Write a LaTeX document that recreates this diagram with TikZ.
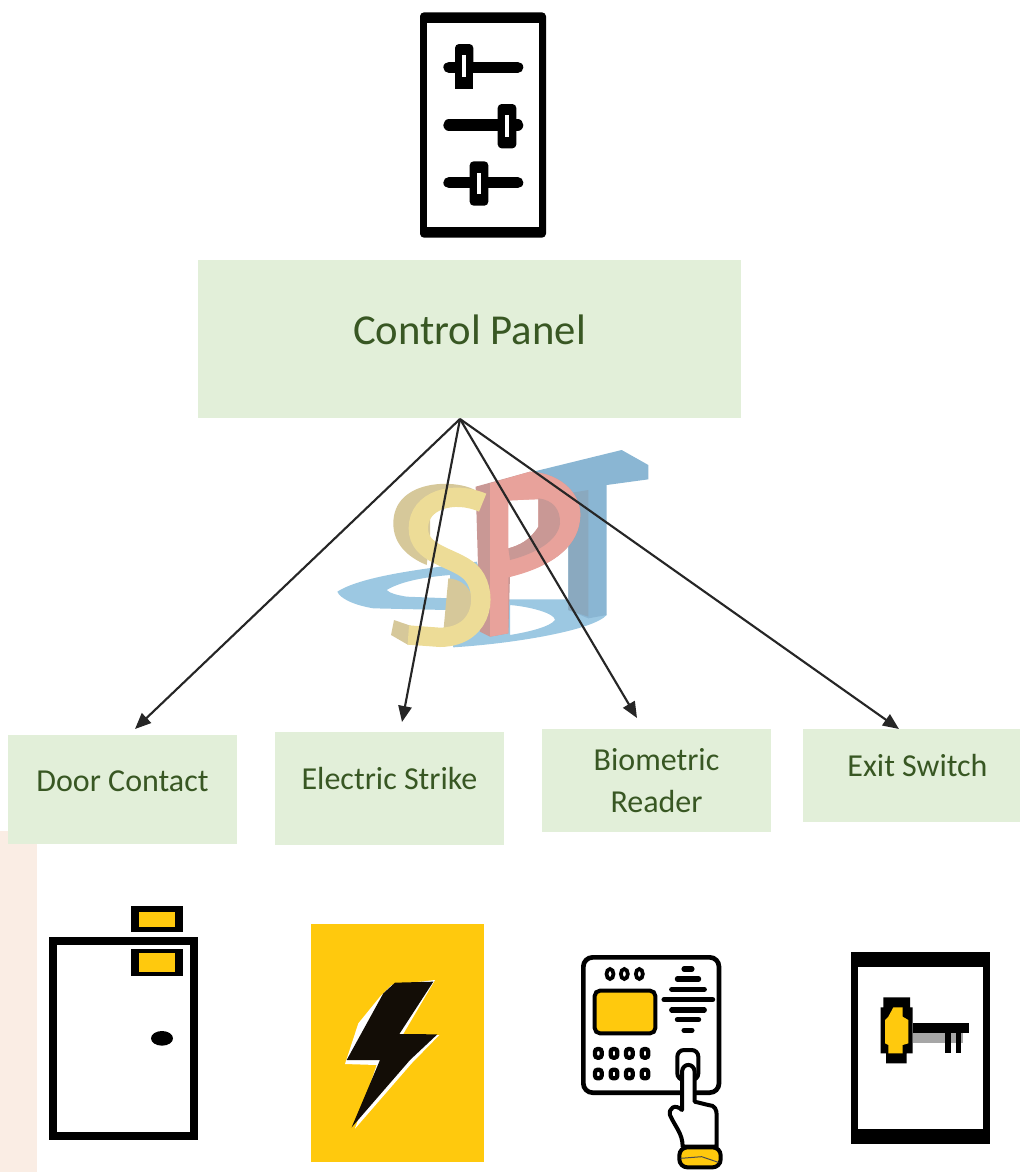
\documentclass[tikz,border=0pt]{standalone}
\usepackage{fontspec}
\setmainfont{Carlito}
\usetikzlibrary{arrows.meta}

\definecolor{boxgreen}{HTML}{E2EFD9}
\definecolor{textgreen}{HTML}{385723}
\definecolor{peach}{HTML}{FAEDE4}
\definecolor{amber}{HTML}{FFC90D}
\definecolor{arrowgrey}{HTML}{262626}
\definecolor{logoblue}{HTML}{9CC8E2}
\definecolor{logoteal}{HTML}{8AB6D3}
\definecolor{logoslate}{HTML}{8AA9BF}
\definecolor{logopink}{HTML}{E8A29B}
\definecolor{logorose}{HTML}{C99895}
\definecolor{logoyellow}{HTML}{EDDC97}
\definecolor{logosand}{HTML}{D6C89A}

\tikzstyle{block} = [rectangle, fill=boxgreen, text=textgreen, inner sep=0pt,
		font=\fontsize{24}{31.5}\selectfont, align=center]
\tikzstyle{line} = [draw=arrowgrey, line width=1.6pt, -{Triangle[length=12pt,width=10pt]}]
\tikzstyle{ink} = [draw=black, line cap=round]

\begin{document}
\begin{tikzpicture}[x=0.75pt, y=-0.75pt]
		\useasboundingbox (0,0) rectangle (1020,1172);
		
		%Strip on the left
		\fill[peach] (0,831) rectangle (37,1172);
		
		%Logo
		\begin{scope}[shift={(330,440)}, x=0.25pt, y=-0.25pt]
		\fill[logoblue, even odd rule] (22,455) .. controls (100,405) and (300,385) .. (440,365) -- (480,478) -- (715,478) -- (830,525) .. controls (790,570) and (560,610) .. (370,622) -- (350,510) -- (130,505) .. controls (70,495) and (30,475) .. (22,455) -- cycle
			(170,450) .. controls (220,420) and (300,410) .. (360,405) -- (360,475) -- (230,470) .. controls (200,465) and (180,460) .. (170,450) -- cycle
			(540,495) .. controls (600,500) and (675,520) .. (675,540) .. controls (660,560) and (600,575) .. (540,585) -- cycle;
		\fill[logoteal] (610,95) -- (875,30) -- (955,75) -- (955,118) -- (830,135) -- (830,525) -- (775,535) -- (715,510) -- (715,150) -- cycle;
		\fill[logoslate] (715,160) -- (775,150) -- (775,530) -- (715,510) -- cycle;
		\fill[logorose] (437,140) -- (600,95) .. controls (700,100) and (760,170) .. (750,240) .. controls (740,330) and (650,385) .. (540,405) -- (535,580) -- (480,590) -- (450,575) -- cycle;
		\fill[logopink] (480,130) -- (600,95) .. controls (700,100) and (760,170) .. (750,240) .. controls (740,330) and (650,385) .. (535,412) -- (535,580) -- (480,590) -- cycle;
		\fill[white] (535,182) -- (625,178) -- (625,260) .. controls (600,300) and (570,315) .. (535,325) -- cycle;
		\fill[logorose] (625,175) .. controls (670,180) and (692,210) .. (690,250) .. controls (685,300) and (620,340) .. (540,360) -- (535,325) .. controls (570,315) and (600,300) .. (625,260) -- cycle;
		\fill[logosand] (435,150) .. controls (370,115) and (190,120) .. (190,250) .. controls (190,310) and (230,350) .. (290,375) -- (300,300) -- (300,170) -- cycle;
		\fill[logosand] (355,415) .. controls (420,420) and (440,480) .. (430,530) .. controls (420,570) and (380,580) .. (340,575) -- cycle;
		\fill[logosand] (192,540) -- (183,585) -- (235,615) -- (250,560) -- cycle;
		\draw[logoyellow, line width=14.5pt] (458,188) .. controls (370,150) and (265,180) .. (265,265) .. controls (265,345) and (370,350) .. (420,395) .. controls (475,445) and (470,590) .. (330,592) -- (235,585);
		\end{scope}
		
		%Boxes
		\node [block, minimum width=407pt, text height=63pt, text depth=55.5pt, font=\fontsize{32}{38}\selectfont] (panel) at (469.5,339) {Control Panel};
		\node [block, minimum width=171.75pt, text height=42pt, text depth=39.75pt] (door) at (122.5,789.5) {Door Contact};
		\node [block, minimum width=171.75pt, text height=42.75pt, text depth=42pt] (strike) at (389.5,788.5) {Electric Strike};
		\node [block, minimum width=171.75pt, minimum height=77.25pt] (reader) at (656.5,780.5) {Biometric\\Reader};
		\node [block, minimum width=162.75pt, text height=35.25pt, text depth=34.5pt] (exit) at (911.5,775.5) {\hspace*{9pt}Exit Switch};
		
		%arrows
		\coordinate (hub) at (460,419);
		\coordinate (doorTip) at (135,729);
		\coordinate (strikeTip) at (402,722);
		\coordinate (readerTip) at (637,718);
		\coordinate (exitTip) at (899,729);
		\draw[line] (hub) -- (doorTip);
		\draw[line] (hub) -- (strikeTip);
		\draw[line] (hub) -- (readerTip);
		\draw[line] (hub) -- (exitTip);
		
		%Control panel icon
		\begin{scope}[shift={(400,0)}, x=0.25pt, y=-0.25pt]
		\fill[black, rounded corners=3pt] (60,37) rectangle (438,713);
		\fill[white] (80,70) rectangle (418,680);
		\draw[ink, line width=8.5pt] (147,202) -- (353,202);
		\draw[ink, line width=8.5pt] (147,375) -- (353,375);
		\draw[ink, line width=8.5pt] (147,548) -- (353,548);
		\fill[black, rounded corners=3pt] (165,132) rectangle (220,200);
		\fill[black] (165,190) rectangle (220,266);
		\fill[black, rounded corners=3pt] (293,312) rectangle (349,445);
		\fill[black, rounded corners=3pt] (209,484) rectangle (265,617);
		\fill[white] (186,165) rectangle (198,232);
		\fill[white] (315,345) rectangle (327,410);
		\fill[white] (230,518) rectangle (242,583);
		\end{scope}
		
		%Door and lightning icons
		\begin{scope}[shift={(0,890)}, x=0.25pt, y=-0.25pt]
		\draw[black, fill=white, line width=6pt] (158,153) rectangle (581,739);
		\fill[black] (394,48) rectangle (548,125);
		\fill[amber] (416,66) rectangle (526,112);
		\fill[black] (394,176) rectangle (548,258);
		\fill[amber] (416,189) rectangle (526,246);
		\fill[black] (486,445) ellipse [x radius=33, y radius=22];
		\fill[amber] (933,102) rectangle (1452,816);
		\fill[white, line join=round] (1175,285) -- (1305,270) -- (1205,440) -- (1318,435) -- (1235,520) -- (1065,716) -- (1130,525) -- (1035,522) -- (1075,400) -- (1140,320) -- cycle;
		\fill[black!90!brown] (1185,278) -- (1300,275) -- (1198,432) -- (1312,433) -- (1230,510) -- (1055,712) -- (1140,510) -- (1040,510) -- (1150,310) -- cycle;
		\end{scope}
		
		%Reader and key icons
		\begin{scope}[shift={(560,930)}, x=0.25pt, y=-0.25pt]
		\draw[black, line width=3.5pt, rounded corners=7pt] (70,82) rectangle (477,488);
		\draw[black, line width=2.8pt] (150,132) ellipse [x radius=10.5, y radius=15];
		\draw[black, line width=2.8pt] (193,132) ellipse [x radius=10.5, y radius=15];
		\draw[black, line width=2.8pt] (238,132) ellipse [x radius=10.5, y radius=15];
		\draw[black, fill=amber, line width=3pt, rounded corners=4pt] (104,182) rectangle (286,310);
		\draw[ink, line width=3.8pt] (372,117) -- (396,117);
		\draw[ink, line width=3.8pt] (352,147) -- (416,147);
		\draw[ink, line width=3.8pt] (335,178) -- (433,178);
		\draw[ink, line width=3.8pt] (312,209) -- (458,209);
		\draw[ink, line width=3.8pt] (335,240) -- (433,240);
		\draw[ink, line width=3.8pt] (352,269) -- (416,269);
		\draw[ink, line width=3.8pt] (372,301) -- (396,301);
		\draw[black, line width=3.2pt, rounded corners=2pt] (105,357) rectangle (125,383);
		\draw[black, line width=3.2pt, rounded corners=2pt] (152,357) rectangle (172,383);
		\draw[black, line width=3.2pt, rounded corners=2pt] (198,357) rectangle (218,383);
		\draw[black, line width=3.2pt, rounded corners=2pt] (245,357) rectangle (265,383);
		\draw[black, line width=3.2pt, rounded corners=2pt] (105,419) rectangle (125,445);
		\draw[black, line width=3.2pt, rounded corners=2pt] (152,419) rectangle (172,445);
		\draw[black, line width=3.2pt, rounded corners=2pt] (198,419) rectangle (218,445);
		\draw[black, line width=3.2pt, rounded corners=2pt] (245,419) rectangle (265,445);
		\draw[black, line width=3pt, rounded corners=5pt] (352,360) rectangle (415,450);
		\draw[black, fill=white, line width=3pt, line join=round] (368,650) .. controls (368,610) and (345,590) .. (330,555) .. controls (325,535) and (345,520) .. (366,540)
			-- (366,425) .. controls (368,398) and (402,398) .. (404,425) -- (404,515) -- (445,525) .. controls (465,525) and (470,540) .. (470,555) -- (470,650) -- cycle;
		\draw[black, fill=amber, line width=3pt, rounded corners=6pt] (358,652) rectangle (482,712);
		\draw[black!70, line width=0.75pt] (362,685) -- (425,680) -- (475,697);
		\fill[black] (872,65) rectangle (1290,642);
		\fill[white] (895,110) rectangle (1268,598);
		\fill[black!35] (1058,308) rectangle (1210,338);
		\fill[black] (1058,278) rectangle (1228,308);
		\fill[black] (1155,308) rectangle (1172,370);
		\fill[black] (1187,308) rectangle (1204,370);
		\fill[black] (970,202) -- (1050,202) -- (1050,232) -- (1058,232) -- (1058,370) -- (1040,370) -- (1040,400) -- (978,400) -- (978,370) -- (962,370) -- (962,232) -- (970,232) -- cycle;
		\fill[amber] (1000,232) -- (1028,232) -- (1028,260) -- (1045,270) -- (1045,340) -- (1028,345) -- (1028,370) -- (985,370) -- (985,345) -- (975,340) -- (975,270) -- (985,260) -- cycle;
		\end{scope}
		
		\end{tikzpicture}
\end{document}
